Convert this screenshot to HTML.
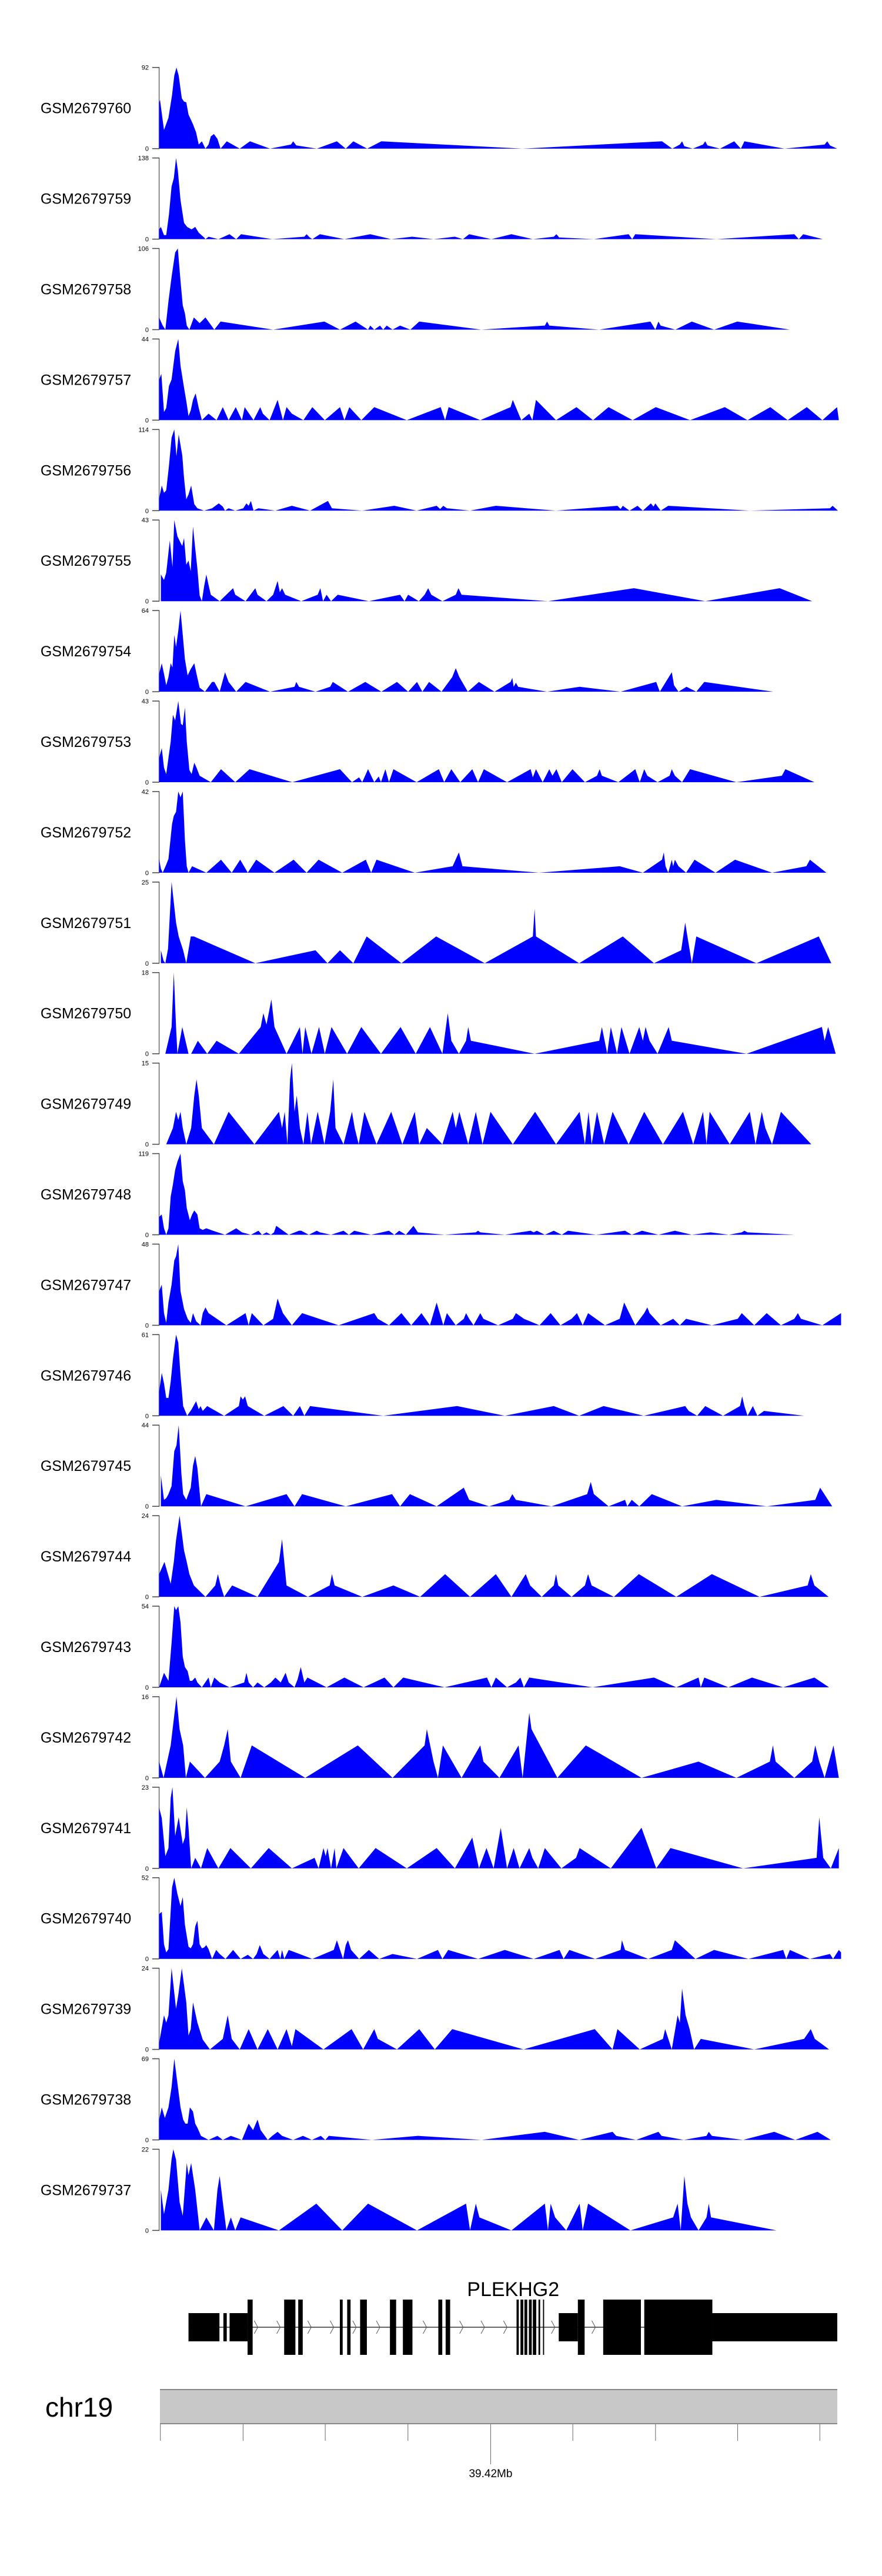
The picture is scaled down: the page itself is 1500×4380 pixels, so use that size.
<!DOCTYPE html>
<html><head><meta charset="utf-8"><title>PLEKHG2 coverage tracks</title>
<style>
html,body{margin:0;padding:0;background:#fff;}
svg{display:block;font-family:"Liberation Sans",Arial,sans-serif;}
</style></head>
<body>
<svg id="chart" xmlns="http://www.w3.org/2000/svg" width="1500" height="4380" viewBox="0 0 1500 4380"></svg>
<script>
// ---- data: sample names and track maxima ----
const sampleNames = ["GSM2679760","GSM2679759","GSM2679758","GSM2679757","GSM2679756","GSM2679755","GSM2679754","GSM2679753","GSM2679752","GSM2679751","GSM2679750","GSM2679749","GSM2679748","GSM2679747","GSM2679746","GSM2679745","GSM2679744","GSM2679743","GSM2679742","GSM2679741","GSM2679740","GSM2679739","GSM2679738","GSM2679737"];
const trackMax = [92,138,106,44,114,43,64,43,42,25,18,15,119,48,61,44,24,54,16,23,52,24,69,22];
// coverage: [position, percent of track max]
const cov0=[[14,57],[16,60],[25,23],[35,38],[43,66],[48,90],[53,100],[58,90],[65,62],[70,58],[75,57],[80,42],[90,30],[97,20],[103,5],[110,9],[118,0],[125,5],[130,15],[137,18],[145,12],[152,0],[166,9],[195,0],[218,9],[263,0],[310,5],[315,9],[322,4],[368,0],[413,9],[433,0],[450,9],[481,0],[513,9],[830,0],[1143,9],[1166,0],[1183,5],[1188,9],[1193,3],[1212,0],[1235,5],[1240,9],[1245,4],[1273,0],[1305,9],[1320,0],[1328,9],[1418,0],[1508,5],[1514,9],[1520,4],[1536,0]];
const cov1=[[14,12],[18,15],[25,5],[30,5],[36,30],[42,65],[47,75],[52,100],[56,85],[62,48],[70,20],[77,15],[87,12],[95,15],[103,8],[115,2],[118,0],[125,3],[147,0],[172,6],[187,0],[198,6],[268,0],[340,3],[345,6],[352,2],[358,0],[375,6],[430,0],[488,6],[535,0],[582,3],[630,0],[678,3],[696,0],[710,6],[760,0],[805,6],[853,0],[900,3],[906,6],[912,2],[990,0],[1068,6],[1076,0],[1083,6],[1265,0],[1440,6],[1450,0],[1460,6],[1504,0]];
const cov2=[[14,15],[22,5],[28,0],[35,35],[42,65],[50,95],[56,100],[62,60],[67,30],[72,20],[76,5],[82,0],[92,15],[105,8],[118,15],[138,0],[152,10],[270,0],[385,10],[420,0],[455,10],[483,0],[488,5],[497,0],[510,5],[517,0],[525,5],[538,0],[555,5],[578,0],[598,10],[737,0],[880,5],[885,10],[890,5],[1002,0],[1117,10],[1128,0],[1135,10],[1140,5],[1173,0],[1210,10],[1260,0],[1312,10],[1430,0]];
const cov3=[[14,50],[19,57],[25,10],[30,15],[36,42],[42,50],[50,85],[57,100],[62,67],[70,40],[76,20],[80,5],[85,12],[90,25],[96,33],[103,15],[110,0],[125,8],[143,0],[157,16],[170,0],[186,16],[200,0],[206,16],[226,0],[241,16],[247,8],[262,0],[280,25],[292,0],[300,16],[312,8],[338,0],[358,16],[386,0],[420,16],[430,0],[441,16],[468,0],[497,16],[570,0],[646,16],[656,0],[664,16],[735,0],[803,16],[808,25],[827,0],[845,8],[852,0],[860,25],[905,0],[951,16],[988,0],[1023,16],[1077,0],[1129,16],[1206,0],[1284,16],[1335,0],[1386,16],[1425,0],[1468,16],[1503,0],[1536,16],[1540,0]];
const cov4=[[14,15],[20,31],[25,22],[30,25],[36,55],[42,90],[48,100],[53,67],[58,94],[66,68],[70,40],[75,14],[80,20],[86,31],[93,8],[100,3],[115,0],[133,3],[148,9],[157,5],[162,0],[170,3],[185,0],[203,3],[210,9],[215,6],[220,12],[226,0],[237,3],[275,0],[312,6],[353,0],[393,12],[402,3],[470,0],[542,6],[592,0],[637,6],[645,2],[652,6],[660,3],[712,0],[770,6],[905,0],[1043,6],[1050,2],[1055,6],[1070,0],[1088,6],[1100,0],[1118,9],[1124,5],[1128,9],[1140,0],[1157,6],[1340,0],[1520,3],[1526,6],[1538,0]];
const cov5=[[18,33],[25,26],[30,35],[38,75],[44,42],[48,100],[55,80],[62,72],[66,68],[70,78],[75,45],[80,50],[85,37],[90,92],[95,65],[100,40],[105,7],[110,0],[115,18],[120,33],[125,20],[130,8],[150,0],[180,16],[185,8],[208,0],[230,16],[235,8],[255,0],[270,8],[280,25],[285,11],[290,16],[297,8],[333,0],[370,8],[376,16],[382,0],[390,8],[400,0],[415,8],[485,0],[555,8],[565,0],[573,8],[597,0],[610,8],[618,16],[625,8],[650,0],[680,8],[686,16],[693,8],[887,0],[1080,16],[1240,0],[1407,16],[1480,0]];
const cov6=[[14,22],[20,35],[25,22],[30,8],[35,18],[40,35],[44,30],[48,70],[52,55],[57,75],[62,100],[67,70],[72,40],[78,20],[85,28],[93,35],[98,22],[105,5],[117,0],[133,12],[138,12],[150,0],[162,24],[170,12],[187,0],[208,12],[263,0],[318,6],[322,12],[328,6],[365,0],[398,6],[404,12],[438,0],[477,12],[513,0],[548,12],[573,0],[593,12],[605,0],[620,12],[648,0],[672,18],[680,29],[688,18],[707,0],[732,12],[767,0],[803,12],[807,17],[810,6],[815,11],[820,6],[885,0],[958,6],[1050,0],[1130,12],[1138,0],[1165,24],[1170,8],[1180,0],[1198,6],[1220,0],[1238,12],[1393,0]];
const cov7=[[14,30],[20,42],[25,18],[30,10],[35,30],[40,50],[45,83],[50,76],[57,100],[63,72],[67,70],[72,92],[76,50],[82,15],[87,10],[93,24],[98,18],[105,8],[130,0],[153,16],[185,0],[217,16],[313,0],[420,16],[447,0],[463,6],[470,0],[483,16],[497,0],[507,7],[512,0],[522,16],[530,0],[540,16],[592,0],[642,16],[654,0],[670,16],[690,0],[717,16],[730,0],[743,16],[795,0],[848,16],[853,6],[860,16],[875,0],[890,16],[897,8],[906,16],[918,0],[942,16],[970,0],[997,8],[1003,16],[1008,8],[1045,0],[1083,16],[1093,0],[1103,16],[1110,8],[1133,0],[1160,8],[1165,16],[1172,8],[1188,0],[1206,16],[1310,0],[1412,8],[1420,16],[1485,0]];
const cov8=[[14,17],[18,5],[22,0],[30,10],[35,17],[43,60],[47,70],[52,75],[57,100],[62,93],[67,100],[72,40],[76,8],[80,0],[88,8],[120,0],[153,16],[177,0],[196,16],[213,0],[232,16],[273,0],[316,16],[345,0],[372,16],[425,0],[478,16],[490,0],[502,16],[588,0],[673,8],[687,25],[695,8],[867,0],[1048,8],[1100,0],[1143,16],[1147,25],[1151,8],[1157,0],[1165,16],[1168,8],[1172,16],[1180,8],[1197,0],[1216,16],[1263,0],[1307,16],[1390,0],[1467,8],[1475,16],[1512,0]];
const cov9=[[18,16],[24,3],[28,0],[34,18],[42,100],[52,50],[58,33],[68,16],[75,0],[85,33],[92,33],[230,0],[365,16],[392,0],[420,16],[450,0],[480,33],[558,0],[636,33],[745,0],[853,33],[857,67],[860,33],[957,0],[1055,33],[1125,0],[1186,16],[1195,50],[1200,33],[1210,0],[1220,33],[1355,0],[1495,33],[1523,0]];
const cov10=[[28,0],[42,33],[47,100],[52,33],[55,0],[66,33],[80,0],[86,0],[101,16],[122,0],[143,16],[193,0],[242,33],[248,50],[255,36],[260,50],[266,67],[273,33],[300,0],[330,33],[336,0],[342,33],[356,0],[373,33],[386,0],[401,33],[436,0],[468,33],[512,0],[556,33],[590,0],[622,33],[650,0],[662,50],[670,16],[687,0],[703,16],[708,33],[714,16],[857,0],[1002,16],[1008,33],[1020,0],[1028,33],[1042,0],[1052,33],[1070,0],[1092,33],[1100,16],[1106,33],[1115,16],[1133,0],[1158,33],[1165,16],[1333,0],[1502,33],[1508,16],[1516,33],[1533,0]];
const cov11=[[30,0],[45,20],[52,40],[57,30],[62,40],[67,20],[75,0],[86,20],[93,60],[98,80],[103,60],[110,20],[137,0],[170,40],[228,0],[283,40],[290,20],[296,40],[302,0],[308,80],[312,100],[318,40],[323,60],[330,20],[338,0],[347,40],[355,0],[370,40],[385,0],[398,40],[405,80],[410,20],[428,0],[447,40],[453,20],[462,0],[475,40],[502,0],[535,40],[560,0],[588,40],[598,0],[615,20],[650,0],[673,40],[680,20],[688,40],[708,0],[725,40],[740,0],[758,40],[808,0],[858,40],[905,0],[958,40],[970,0],[978,40],[985,0],[997,40],[1013,0],[1032,40],[1068,0],[1103,40],[1145,0],[1190,40],[1213,0],[1235,40],[1243,0],[1250,40],[1295,0],[1340,40],[1353,0],[1367,40],[1375,20],[1390,0],[1410,40],[1478,0]];
const cov12=[[14,22],[20,25],[25,8],[30,0],[35,8],[40,47],[45,62],[50,80],[55,90],[62,100],[67,66],[72,55],[76,33],[83,18],[88,25],[93,30],[100,25],[105,8],[112,6],[120,8],[135,5],[162,0],[187,8],[200,3],[220,0],[237,5],[245,0],[255,3],[265,0],[272,3],[277,11],[305,0],[328,5],[333,5],[340,3],[350,0],[368,5],[375,3],[400,0],[428,5],[440,0],[452,5],[490,0],[530,5],[542,0],[553,5],[568,0],[585,11],[595,3],[655,0],[725,3],[730,5],[735,3],[790,0],[848,5],[855,3],[862,5],[880,0],[900,5],[918,0],[932,5],[995,0],[1060,5],[1075,0],[1098,5],[1135,0],[1172,5],[1210,0],[1252,3],[1293,0],[1322,3],[1328,5],[1335,3],[1440,0]];
const cov13=[[14,42],[20,50],[25,15],[30,3],[35,28],[42,50],[48,80],[52,85],[57,100],[62,42],[70,20],[78,8],[85,3],[90,15],[97,5],[107,0],[112,15],[118,22],[125,15],[165,0],[208,15],[215,0],[222,15],[248,0],[270,8],[280,33],[285,25],[292,15],[312,0],[335,15],[417,0],[497,15],[505,8],[530,0],[558,15],[580,0],[603,15],[622,0],[637,28],[652,0],[660,15],[680,0],[698,8],[703,15],[710,8],[720,0],[735,15],[742,8],[775,0],[808,8],[815,15],[833,8],[868,0],[893,15],[915,0],[940,8],[952,15],[965,0],[977,15],[1015,0],[1048,8],[1058,28],[1065,20],[1083,0],[1103,15],[1110,22],[1115,15],[1140,0],[1168,8],[1183,0],[1197,8],[1255,0],[1313,8],[1322,15],[1350,0],[1378,15],[1410,0],[1440,8],[1448,15],[1455,8],[1503,0],[1545,15]];
const cov14=[[14,30],[20,53],[25,40],[30,22],[35,22],[40,42],[45,70],[52,100],[57,90],[62,50],[68,12],[77,0],[87,8],[97,18],[103,8],[107,12],[112,6],[122,12],[160,0],[193,12],[197,24],[202,20],[207,24],[213,12],[250,0],[293,12],[315,0],[330,12],[340,0],[353,12],[517,0],[683,12],[790,0],[900,12],[957,0],[1012,12],[1102,0],[1195,12],[1203,6],[1222,0],[1240,12],[1280,0],[1318,12],[1323,24],[1328,12],[1335,0],[1347,12],[1357,0],[1372,6],[1462,0]];
const cov15=[[18,38],[25,8],[30,10],[35,15],[42,25],[48,68],[53,75],[58,100],[64,40],[68,15],[75,8],[85,23],[90,50],[95,62],[100,47],[108,0],[120,15],[208,0],[300,15],[318,0],[335,15],[433,0],[537,15],[555,0],[577,15],[637,0],[698,23],[710,8],[755,0],[800,8],[807,15],[815,8],[895,0],[975,15],[983,30],[990,15],[1023,0],[1060,8],[1065,0],[1075,8],[1092,0],[1120,15],[1188,0],[1265,8],[1378,0],[1487,8],[1498,23],[1525,0]];
const cov16=[[14,28],[26,43],[40,16],[47,43],[52,70],[60,100],[70,57],[76,43],[82,28],[92,14],[118,0],[140,14],[146,28],[152,14],[160,0],[178,14],[235,0],[283,43],[290,71],[300,14],[348,0],[397,14],[402,28],[408,14],[470,0],[540,14],[600,0],[656,28],[712,0],[770,28],[805,0],[837,28],[847,14],[873,0],[900,14],[905,28],[910,14],[940,0],[970,14],[977,28],[985,14],[1035,0],[1091,28],[1175,0],[1255,28],[1362,0],[1470,14],[1477,28],[1485,14],[1517,0]];
const cov17=[[14,0],[25,18],[35,8],[42,55],[48,100],[52,95],[57,100],[62,80],[67,38],[72,25],[78,20],[83,8],[88,8],[95,12],[100,6],[110,0],[125,12],[130,0],[138,12],[150,6],[172,0],[205,6],[210,18],[215,6],[225,0],[235,6],[250,0],[265,6],[275,12],[287,6],[298,18],[305,6],[318,0],[325,10],[332,25],[340,6],[347,12],[390,0],[430,12],[473,0],[520,12],[540,0],[562,12],[655,0],[750,12],[760,0],[770,12],[795,0],[815,6],[825,12],[833,0],[845,12],[987,0],[1125,12],[1175,0],[1225,12],[1230,0],[1238,12],[1292,0],[1345,12],[1415,0],[1485,12],[1518,0]];
const cov18=[[14,20],[24,0],[40,40],[53,100],[60,60],[68,40],[74,0],[83,20],[117,0],[150,20],[160,40],[168,60],[175,20],[197,0],[222,40],[342,0],[460,40],[538,0],[610,40],[615,60],[630,20],[640,0],[651,40],[693,0],[735,40],[742,20],[778,0],[821,40],[830,0],[845,80],[850,60],[908,0],[972,40],[1097,0],[1225,20],[1310,0],[1385,20],[1392,40],[1398,20],[1440,0],[1480,20],[1487,40],[1496,20],[1508,0],[1528,40],[1540,0]];
const cov19=[[14,75],[20,62],[28,15],[35,25],[40,87],[44,100],[50,40],[58,63],[67,30],[72,38],[76,75],[80,50],[86,0],[95,13],[108,0],[122,25],[147,0],[174,25],[220,0],[260,25],[312,0],[363,13],[372,0],[383,25],[388,15],[392,25],[400,0],[408,25],[412,0],[428,25],[462,0],[500,25],[570,0],[637,25],[678,0],[717,38],[732,0],[749,25],[765,0],[781,50],[795,0],[810,25],[823,0],[845,25],[852,13],[865,0],[880,25],[917,0],[950,13],[958,25],[1028,0],[1097,50],[1130,0],[1162,25],[1325,0],[1490,13],[1496,63],[1505,13],[1522,0],[1540,25]];
const cov20=[[14,55],[20,58],[25,18],[30,8],[35,12],[43,88],[48,100],[55,80],[62,65],[67,76],[72,42],[80,15],[85,13],[90,18],[95,40],[100,47],[105,18],[110,13],[115,14],[120,17],[125,12],[133,0],[142,11],[150,6],[163,0],[180,11],[197,0],[213,5],[225,0],[233,6],[240,17],[248,6],[262,0],[280,11],[286,0],[290,11],[295,0],[305,11],[358,0],[406,11],[413,23],[427,0],[433,17],[438,23],[445,11],[463,0],[485,11],[508,0],[538,6],[593,0],[640,11],[650,0],[663,11],[730,0],[790,11],[855,0],[913,11],[922,0],[935,11],[993,0],[1050,11],[1053,23],[1060,11],[1112,0],[1165,11],[1172,23],[1218,0],[1260,11],[1337,0],[1415,11],[1422,0],[1430,11],[1475,0],[1520,6],[1527,0],[1540,11],[1545,8]];
const cov21=[[14,8],[25,42],[30,33],[35,42],[42,100],[52,50],[57,67],[65,100],[75,58],[80,17],[85,25],[90,58],[100,33],[112,12],[128,0],[157,13],[168,42],[177,13],[195,0],[215,25],[235,0],[258,25],[280,0],[300,25],[312,4],[320,25],[383,0],[446,25],[472,0],[497,25],[505,13],[548,0],[598,25],[633,0],[672,25],[832,0],[992,25],[1032,0],[1043,25],[1093,0],[1145,13],[1150,25],[1165,0],[1178,42],[1183,33],[1188,75],[1196,42],[1205,25],[1215,0],[1230,13],[1350,0],[1462,13],[1477,25],[1486,13],[1518,0]];
const cov22=[[14,25],[20,40],[27,27],[35,40],[42,65],[48,100],[55,70],[62,40],[68,25],[73,20],[78,20],[83,40],[90,35],[95,20],[100,15],[108,5],[125,0],[145,5],[157,0],[175,5],[200,0],[215,20],[225,12],[235,25],[242,12],[258,0],[268,5],[280,10],[290,5],[315,0],[337,5],[357,0],[377,5],[387,0],[395,5],[492,0],[595,5],[738,0],[880,10],[957,0],[1032,10],[1040,5],[1085,0],[1135,10],[1142,5],[1192,0],[1243,5],[1248,10],[1255,5],[1325,0],[1395,10],[1442,0],[1492,10],[1522,0]];
const cov23=[[18,50],[25,20],[30,35],[35,50],[42,88],[46,100],[52,87],[60,35],[67,18],[76,83],[80,68],[86,83],[95,50],[105,0],[120,16],[137,0],[145,50],[150,67],[157,35],[165,0],[175,16],[185,0],[197,16],[283,0],[367,33],[425,0],[483,33],[593,0],[703,33],[712,0],[725,33],[733,16],[805,0],[880,33],[887,0],[893,33],[903,16],[928,0],[958,33],[965,0],[977,33],[1072,0],[1168,16],[1178,33],[1185,0],[1193,67],[1200,33],[1208,16],[1225,0],[1243,16],[1248,33],[1253,16],[1400,0]];
const coverage=[cov0,cov1,cov2,cov3,cov4,cov5,cov6,cov7,cov8,cov9,cov10,cov11,cov12,cov13,cov14,cov15,cov16,cov17,cov18,cov19,cov20,cov21,cov22,cov23];
// gene model (gene-track position units)
const utrExons=[[335,390],[397,403],[408,440],[993,1027],[1266,1488]];
const cdsExons=[[440,449],[505,525],[530,538],[604,609],[617,623],[640,652],[693,704],[716,733],[779,786],[792,800],[918,922],[925,930],[932,937],[940,945],[947,953],[957,960],[965,967],[1027,1039],[1072,1139],[1145,1266]];
const intronArrows=[455,495,550,590,630,672,755,820,858,898,983,1055];
const axisTickPos=[285,432,578,725,872,1018,1165,1311,1457];
const axisLabel="39.42Mb";
const axisLabelTick=4;

// ---- scales ----
const X0=14, X1=1536, PX0=270.6, PX1=1423.6;
function xScale(p){return PX0+(p-X0)*(PX1-PX0)/(X1-X0);}
function gScale(p){return p/1.045;}
const TOP0=114.7, STEP=153.9, TH=138;
function yScale(k,v){const base=TOP0+k*STEP+TH;return base-v/100*TH;}

const NS="http://www.w3.org/2000/svg";
const svg=document.getElementById('chart');
function mk(tag,attrs,parent){const e=document.createElementNS(NS,tag);for(const k in attrs)e.setAttribute(k,attrs[k]);(parent||svg).appendChild(e);return e;}

coverage.forEach((pts,k)=>{
  const g=mk('g',{});
  
  
  const top=TOP0+k*STEP, base=top+TH;
  const lab=mk('text',{x:146,y:top+TH/2+9,'text-anchor':'middle','font-size':25,fill:'#000'},g);
  lab.textContent=sampleNames[k];
  
  
  const ax=mk('line',{x1:270.7,y1:top,x2:270.7,y2:base,stroke:'#8c8c8c','stroke-width':2},g);
  
  
  [[top,trackMax[k]],[base,0]].forEach(([ty,lbl])=>{
    const t=mk('line',{x1:259,y1:ty,x2:271,y2:ty,stroke:'#444','stroke-width':1.5},g);
    
    
    const tl=mk('text',{x:253,y:ty+4,'text-anchor':'end','font-size':11,fill:'#000'},g);
    tl.textContent=lbl;
    
    
  });
  let d='M'+xScale(pts[0][0]).toFixed(1)+','+base;
  pts.forEach(p=>{d+=' L'+xScale(p[0]).toFixed(1)+','+yScale(k,p[1]).toFixed(1);});
  d+=' L'+xScale(pts[pts.length-1][0]).toFixed(1)+','+base+' Z';
  const area=mk('path',{d:d,fill:'#0000ff',stroke:'none'},g);
  
  
});

// ---- gene track ----
const GY=3957;
const gg=mk('g',{});


const gl=mk('text',{x:872.7,y:3904,'text-anchor':'middle','font-size':34,fill:'#000'},gg);
gl.textContent='PLEKHG2';


const il=mk('line',{x1:gScale(utrExons[0][0]),y1:GY,x2:gScale(utrExons[4][1]),y2:GY,stroke:'#333','stroke-width':1.5},gg);


intronArrows.forEach(p=>{
  const x=gScale(p);
  const a=mk('polyline',{points:(x-3)+','+(GY-11)+' '+(x+3)+','+GY+' '+(x-3)+','+(GY+11),fill:'none',stroke:'#555','stroke-width':1},gg);
  
  
});
utrExons.forEach(e=>{
  const r=mk('rect',{x:gScale(e[0]),y:3933,width:gScale(e[1])-gScale(e[0]),height:48,fill:'#000'},gg);
  
  
});
cdsExons.forEach(e=>{
  const r=mk('rect',{x:gScale(e[0]),y:3910,width:Math.max(1.5,gScale(e[1])-gScale(e[0])),height:94,fill:'#000'},gg);
  
  
});

// ---- chromosome axis ----
const cg=mk('g',{});


const cl=mk('text',{x:77,y:4109,'font-size':46,fill:'#000'},cg);
cl.textContent='chr19';


const box=mk('rect',{x:272,y:4063,width:1152,height:58,fill:'#c8c8c8'},cg);


mk('line',{x1:272,y1:4063,x2:1424,y2:4063,stroke:'#888','stroke-width':2},cg);
mk('line',{x1:272,y1:4121,x2:1424,y2:4121,stroke:'#888','stroke-width':2},cg);
axisTickPos.forEach((p,i)=>{
  const x=gScale(p);
  const t=mk('line',{x1:x,y1:4122,x2:x,y2:i===axisLabelTick?4190:4150,stroke:'#666','stroke-width':1},cg);
  
  
});
const xl=mk('text',{x:gScale(axisTickPos[axisLabelTick]),y:4212,'text-anchor':'middle','font-size':19,fill:'#000'},cg);
xl.textContent=axisLabel;


</script>
</body></html>
